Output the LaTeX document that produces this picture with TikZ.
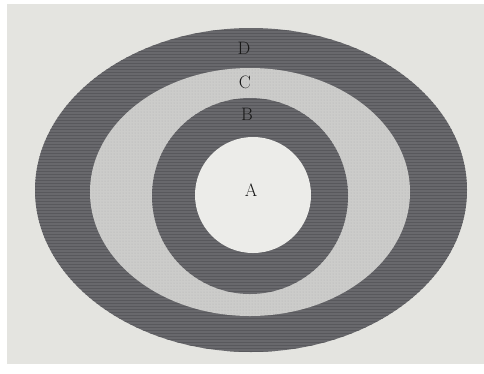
\documentclass[tikz,border=0pt]{standalone}
\usetikzlibrary{patterns}
\definecolor{paper}{RGB}{228,228,224}
\definecolor{ink}{RGB}{104,104,108}
\definecolor{sand}{RGB}{204,204,202}
\definecolor{core}{RGB}{236,236,233}
\begin{document}
\begin{tikzpicture}[x=1pt,y=-1pt,every node/.append style={font=\fontsize{18}{18}\selectfont}]
 \tikzstyle{dark} = [fill=ink]
    \tikzstyle{grain} = [pattern=horizontal lines, pattern color=ink!85!black]
    \tikzstyle{l} = [inner sep=0pt, text=black!90]
    %%
    \useasboundingbox (0,0) rectangle (484,373);
    \fill[white] (0,0) rectangle (484,373);
    \fill[paper] (7,4) rectangle (484,364);

        % rings, outside in
        \fill[dark] (251,190) ellipse [x radius=216, y radius=162];
        \fill[grain] (251,190) ellipse [x radius=216, y radius=162];
        \fill[sand] (250,192) ellipse [x radius=160, y radius=124];
        \fill[pattern=dots, pattern color=black!30] (250,192) ellipse [x radius=160, y radius=124];
        \fill[dark] (250,196) ellipse [x radius=98, y radius=98];
        \fill[grain] (250,196) ellipse [x radius=98, y radius=98];
        \fill[core] (253,195) circle [radius=58];

        \node[l] (d) at (244,48) {D};
        \node[l] (c) at (245,82) {C};
        \node[l] (b) at (247,114) {B};
        \node[l] (a) at (251,190) {A};

    \end{tikzpicture}
\end{document}
